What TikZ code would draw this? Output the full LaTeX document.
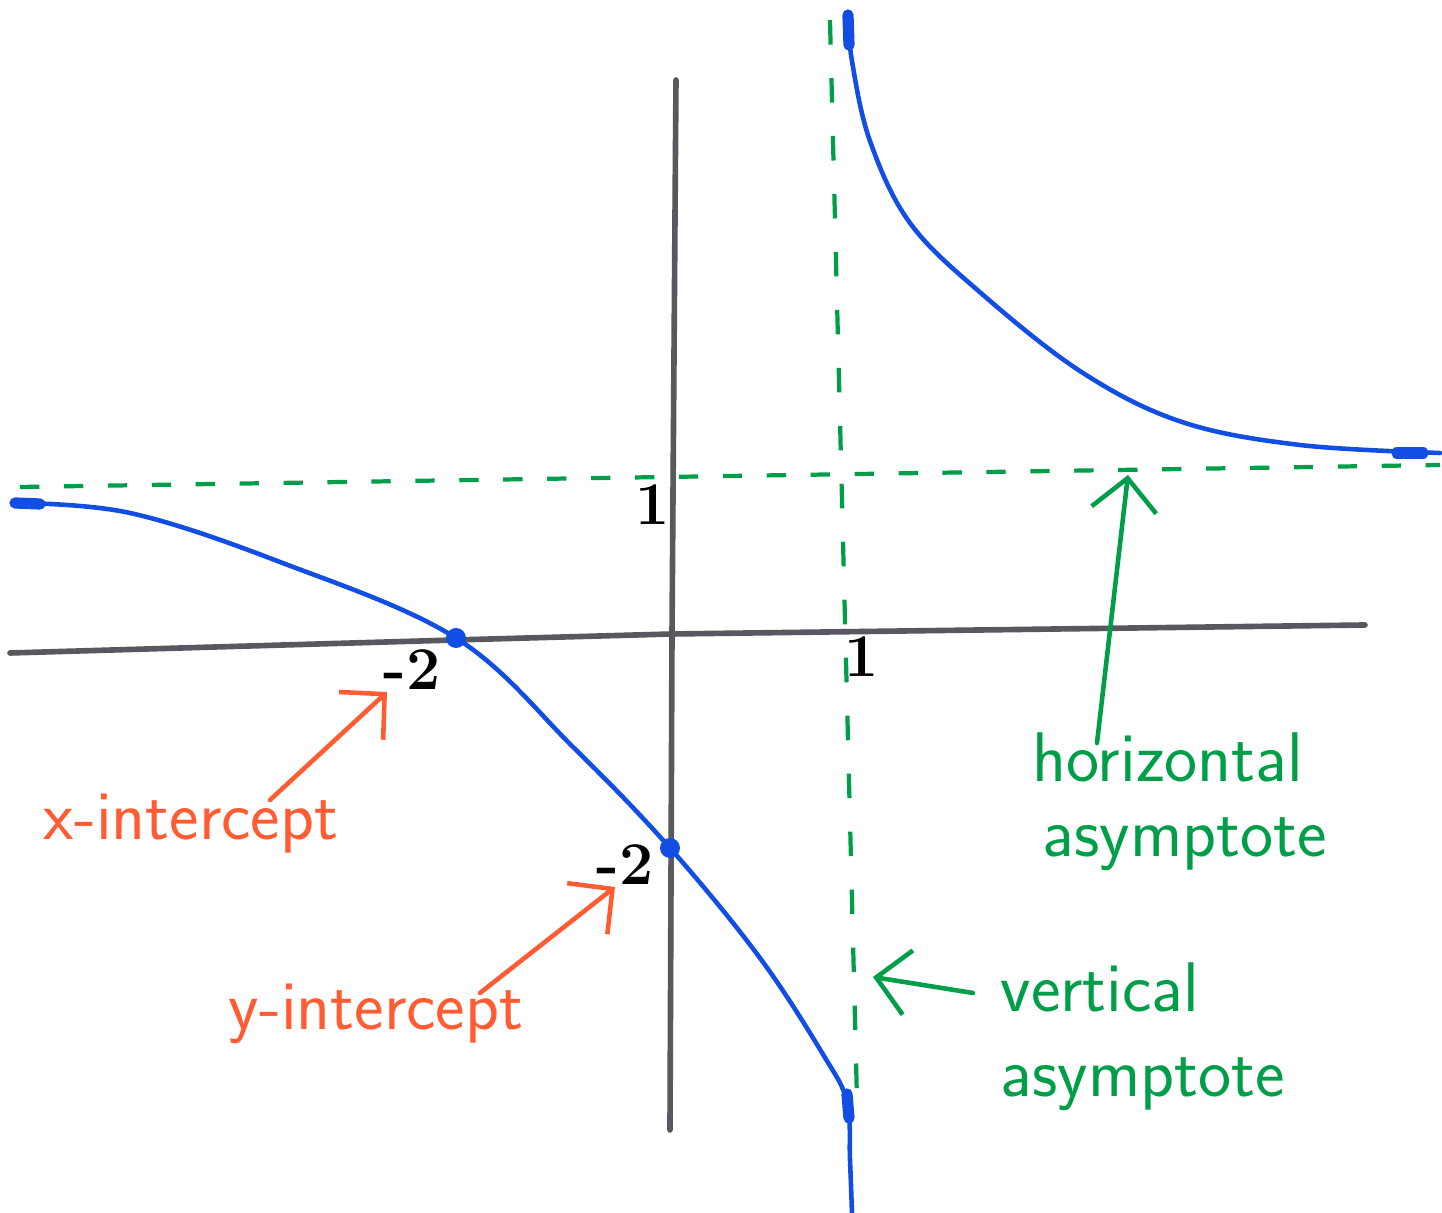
\documentclass[tikz,border=0pt]{standalone}
\usepackage{tikz}
\usetikzlibrary{positioning, arrows.meta, calc}
\definecolor{penblue}{RGB}{18,78,228}
\definecolor{pengreen}{RGB}{0,158,72}
\definecolor{penred}{RGB}{255,92,52}
\definecolor{pengray}{RGB}{88,88,94}

\begin{document}
\begin{tikzpicture}[
    axisline/.style={pengray, line width=1.6pt, line cap=round},
    asym/.style={pengreen, line width=1.2pt},
    branch/.style={penblue, line width=1.3pt, line cap=round, line join=round},
    note/.style={font=\sffamily\fontsize{20}{24}\selectfont, inner sep=0pt},
    ticklbl/.style={font=\LARGE\bfseries, inner sep=1pt},
    cut/.style={circle, fill=penblue, inner sep=0pt, minimum size=2mm},
    pointer/.style={line width=1.3pt, line cap=round, -{Straight Barb[length=3.2mm,width=6.5mm]}}
]
\useasboundingbox (-6.72,-5.77) rectangle (7.70,6.36);
% ---- axes
\draw[axisline] (-6.62,-0.17) -- (-2.17,-0.04) -- (0,0.02) -- (6.93,0.11);
\draw[axisline] (0.04,5.56) -- (0,0) -- (-0.02,-4.94);
% ---- asymptotes y = 1 and x = 1
\draw[asym, dash pattern=on 5.5pt off 7pt] (-6.52,1.49) -- (7.68,1.71);
\draw[asym, dash pattern=on 7pt off 9.5pt] (1.58,6.16) -- (1.85,-4.64);
% ---- left branch
\draw[branch] plot[smooth, tension=0.6] coordinates {
    (-6.57,1.33) (-5.42,1.23) (-3.92,0.74) (-2.16,-0.02)
    (-0.98,-1.12) (-0.02,-2.12) (0.88,-3.22) (1.52,-4.20)
    (1.75,-4.66) (1.78,-5.24) (1.80,-5.77)};
% ---- right branch
\draw[branch] plot[smooth, tension=0.6] coordinates {
    (1.76,6.21) (1.80,5.75) (1.98,4.95) (2.38,4.13)
    (3.10,3.42) (4.11,2.63) (5.10,2.14) (6.28,1.91) (7.68,1.83)};
% pen blobs at the ends
\foreach \x/\y/\u/\v in {-6.57/1.33/-6.32/1.32, 1.76/6.21/1.77/5.91, 1.75/-4.58/1.77/-4.82, 7.25/1.83/7.51/1.83}
    \draw[branch, line width=3.2pt] (\x,\y) -- (\u,\v);
% ---- intercepts
\node[cut] (xcut) at (-2.16,-0.02) {};
\node[cut] (ycut) at (-0.02,-2.12) {};
\node[ticklbl] (yone) at (-0.19,1.31) {1};
\node[ticklbl] (xone) at (1.90,-0.21) {1};
\node[ticklbl] (xmtwo) at (-2.60,-0.34) {-2};
\node[ticklbl] (ymtwo) at (-0.47,-2.29) {-2};
% ---- labels
\node[note, text=penred, anchor=base west] (xint) at (-6.29,-2.04) {x-intercept};
\node[note, text=penred, anchor=base west] (yint) at (-4.44,-3.94) {y-intercept};
\node[note, text=pengreen, anchor=base west] (hasym) at (3.60,-1.46) {horizontal};
\node[note, text=pengreen, anchor=base west] (hasymb) at (3.70,-2.21) {asymptote};
\node[note, text=pengreen, anchor=base west] (vasym) at (3.28,-3.76) {vertical};
\node[note, text=pengreen, anchor=base west] (vasymb) at (3.28,-4.61) {asymptote};
% ---- pointers
\coordinate (xtail) at (-4.02,-1.64);
\coordinate (xtip) at (-2.85,-0.56);
\coordinate (ytail) at (-1.92,-3.57);
\coordinate (ytip) at (-0.57,-2.51);
\coordinate (htail) at (4.25,-1.07);
\coordinate (htip) at (4.56,1.61);
\coordinate (vtail) at (3.01,-3.57);
\coordinate (vtip) at (2.01,-3.41);
\draw[pointer, penred] (xtail) -- (xtip);
\draw[pointer, penred] (ytail) -- (ytip);
\draw[pointer, pengreen] (htail) -- (htip);
\draw[pointer, pengreen] (vtail) -- (vtip);
\end{tikzpicture}
\end{document}
